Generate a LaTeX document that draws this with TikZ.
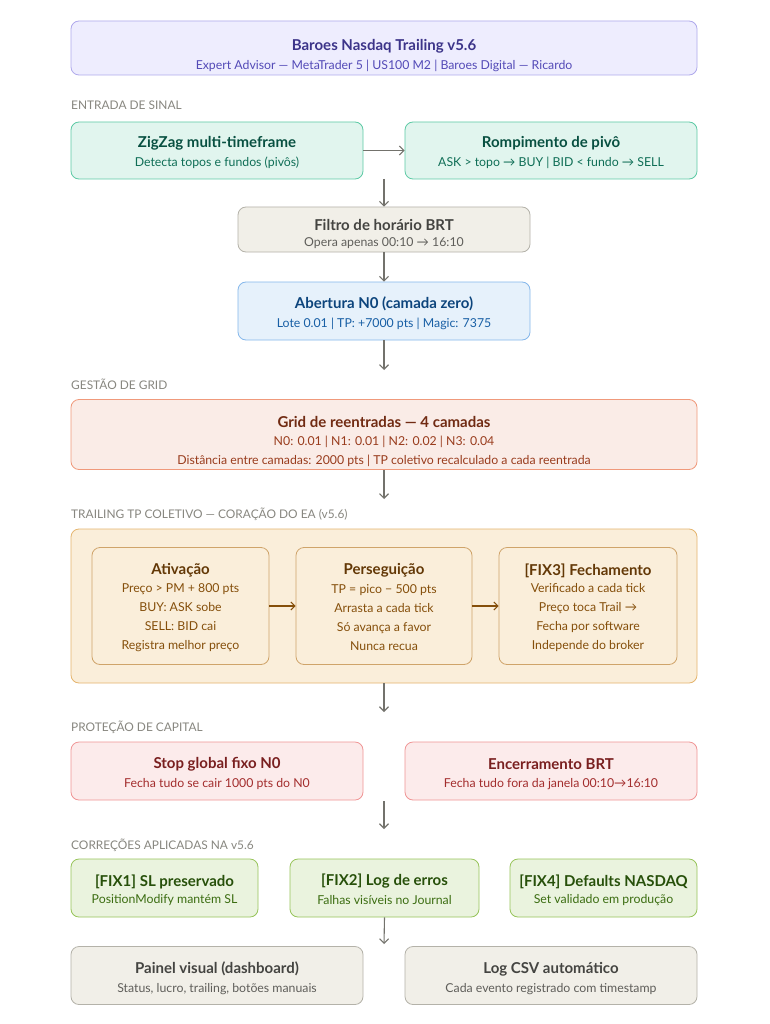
\documentclass[tikz,border=0pt]{standalone}
\usepackage{fontspec}
\setmainfont{Lato}
\usetikzlibrary{arrows.meta}
\definecolor{lavF}{HTML}{EEEDFE}\definecolor{lavD}{HTML}{AFA9EC}\definecolor{lavT}{HTML}{3C3489}\definecolor{lavS}{HTML}{534AB7}
\definecolor{tealF}{HTML}{E1F5EE}\definecolor{tealD}{HTML}{5DCAA5}\definecolor{tealT}{HTML}{085041}\definecolor{tealS}{HTML}{0F6E56}
\definecolor{grayF}{HTML}{F1EFE8}\definecolor{grayD}{HTML}{B4B2A9}\definecolor{grayT}{HTML}{444441}\definecolor{grayS}{HTML}{5F5E5A}
\definecolor{blueF}{HTML}{E6F1FB}\definecolor{blueD}{HTML}{85B7EB}\definecolor{blueT}{HTML}{0C447C}\definecolor{blueS}{HTML}{185FA5}
\definecolor{corF}{HTML}{FAECE7}\definecolor{corD}{HTML}{F0997B}\definecolor{corT}{HTML}{712B13}\definecolor{corS}{HTML}{993C1D}
\definecolor{ambF}{HTML}{FAEEDA}\definecolor{ambD}{HTML}{E5B56E}\definecolor{ambI}{HTML}{CFA46A}\definecolor{ambT}{HTML}{633806}\definecolor{ambS}{HTML}{854F0B}
\definecolor{redF}{HTML}{FCEBEB}\definecolor{redD}{HTML}{F09595}\definecolor{redT}{HTML}{791F1F}\definecolor{redS}{HTML}{A32D2D}
\definecolor{grnF}{HTML}{EAF3DE}\definecolor{grnD}{HTML}{97C459}\definecolor{grnT}{HTML}{27500A}\definecolor{grnS}{HTML}{3B6D11}
\definecolor{secG}{HTML}{888780}\definecolor{arrG}{HTML}{73726C}
\tikzset{
  box/.style={draw, rounded corners=8pt, line width=0.8pt, inner sep=0pt},
  ttl/.style={font=\bfseries\fontsize{15}{18}\selectfont, inner sep=0pt},
  sub/.style={font=\fontsize{12.3}{15}\selectfont, inner sep=0pt},
  multi/.style={font=\fontsize{12.3}{19}\selectfont, align=center, inner sep=0pt},
  sec/.style={font=\fontsize{11.9}{14}\selectfont, text=secG, anchor=west, inner sep=0pt},
  arr/.style={draw=arrG, line width=1.1pt, -{Straight Barb[length=4.5pt,width=9pt]}},
  arrb/.style={draw=ambS, line width=1.1pt, -{Straight Barb[length=4pt,width=8pt]}}
}
\begin{document}
\begin{tikzpicture}[x=1pt,y=-1pt]
\useasboundingbox[fill=white] (0,0) rectangle (769,1024);
% header
\node[box, fill=lavF, draw=lavD, minimum width=626pt, minimum height=54pt] (hdr) at (384,48) {};
\node[ttl, text=lavT] (hdrT) at (384,46) {Baroes Nasdaq Trailing v5.6};
\node[sub, text=lavS] (hdrS) at (384,66) {Expert Advisor — MetaTrader 5 | US100 M2 | Baroes Digital — Ricardo};
% entrada
\node[sec] (s1) at (71,105) {ENTRADA DE SINAL};
\node[box, fill=tealF, draw=tealD, minimum width=292pt, minimum height=57pt] (zz) at (217,150.5) {};
\node[ttl, text=tealT] (zzT) at (217,143) {ZigZag multi-timeframe};
\node[sub, text=tealS] (zzS) at (217,163) {Detecta topos e fundos (pivôs)};
\node[box, fill=tealF, draw=tealD, minimum width=292pt, minimum height=57pt] (rp) at (551,150.5) {};
\node[ttl, text=tealT] (rpT) at (551,143) {Rompimento de pivô};
\node[sub, text=tealS] (rpS) at (551,163) {ASK > topo → BUY | BID < fundo → SELL};
\draw[arr] (zz.east) -- (rp.west);
\coordinate (c1) at (384,179);
\node[box, fill=grayF, draw=grayD, minimum width=292pt, minimum height=45pt] (fh) at (384,229.5) {};
\node[ttl, text=grayT] (fhT) at (384,225) {Filtro de horário BRT};
\node[sub, text=grayS] (fhS) at (384,243) {Opera apenas 00:10 → 16:10};
\draw[arr] (c1) -- (fh.north);
\node[box, fill=blueF, draw=blueD, minimum width=292pt, minimum height=58pt] (ab) at (384,311) {};
\node[ttl, text=blueT] (abT) at (384,304) {Abertura N0 (camada zero)};
\node[sub, text=blueS] (abS) at (384,324) {Lote 0.01 | TP: +7000 pts | Magic: 7375};
\draw[arr] (fh.south) -- (ab.north);
% grid
\node[sec] (s2) at (71,384) {GESTÃO DE GRID};
\node[box, fill=corF, draw=corD, minimum width=626pt, minimum height=70pt] (gr) at (384,434.5) {};
\node[ttl, text=corT] (grT) at (384,422) {Grid de reentradas — 4 camadas};
\node[sub, text=corS] (grS1) at (384,442) {N0: 0.01 | N1: 0.01 | N2: 0.02 | N3: 0.04};
\node[sub, text=corS] (grS2) at (384,461) {Distância entre camadas: 2000 pts | TP coletivo recalculado a cada reentrada};
\coordinate (c2) at (384,370);
\draw[arr] (ab.south) -- (c2);
% trailing
\node[sec] (s3) at (71,514) {TRAILING TP COLETIVO — CORAÇÃO DO EA (v5.6)};
\coordinate (c3) at (384,499);
\draw[arr] (gr.south) -- (c3);
\node[box, fill=ambF, draw=ambD, minimum width=626pt, minimum height=154pt] (tr) at (384,606) {};
\node[box, fill=ambF, draw=ambI, minimum width=177pt, minimum height=117pt] (at) at (180.5,606) {};
\node[box, fill=ambF, draw=ambI, minimum width=176pt, minimum height=117pt] (pe) at (384,606) {};
\node[box, fill=ambF, draw=ambI, minimum width=178pt, minimum height=117pt] (fe) at (588,606) {};
\node[ttl, text=ambT] (atT) at (180.5,570.5) {Ativação};
\node[multi, text=ambS] (atS) at (180.5,617.5) {Preço > PM + 800 pts\\BUY: ASK sobe\\SELL: BID cai\\Registra melhor preço};
\node[ttl, text=ambT] (peT) at (384,570.5) {Perseguição};
\node[multi, text=ambS] (peS) at (384,617.5) {TP = pico − 500 pts\\Arrasta a cada tick\\Só avança a favor\\Nunca recua};
\node[ttl, text=ambT] (feT) at (588,570.5) {[FIX3] Fechamento};
\node[multi, text=ambS] (feS) at (588,617.5) {Verificado a cada tick\\Preço toca Trail →\\Fecha por software\\Independe do broker};
\draw[arrb] (at.east) -- (pe.west);
\draw[arrb] (pe.east) -- (fe.west);
% protecao
\coordinate (c4) at (384,712);
\draw[arr] (tr.south) -- (c4);
\node[sec] (s4) at (71,727) {PROTEÇÃO DE CAPITAL};
\node[box, fill=redF, draw=redD, minimum width=292pt, minimum height=58pt] (sg) at (217,771) {};
\node[ttl, text=redT] (sgT) at (217,764) {Stop global fixo N0};
\node[sub, text=redS] (sgS) at (217,784) {Fecha tudo se cair 1000 pts do N0};
\node[box, fill=redF, draw=redD, minimum width=292pt, minimum height=58pt] (eb) at (551,771) {};
\node[ttl, text=redT] (ebT) at (551,764) {Encerramento BRT};
\node[sub, text=redS] (ebS) at (551,784) {Fecha tudo fora da janela 00:10→16:10};
\coordinate (c5) at (384,801);
\coordinate (c6) at (384,829);
\draw[arr] (c5) -- (c6);
% correcoes
\node[sec] (s5) at (71,845) {CORREÇÕES APLICADAS NA v5.6};
\node[box, fill=grnF, draw=grnD, minimum width=187pt, minimum height=58pt] (f1) at (164.5,888) {};
\node[ttl, text=grnT] (f1T) at (164.5,881.5) {[FIX1] SL preservado};
\node[sub, text=grnS] (f1S) at (164.5,900) {PositionModify mantém SL};
\node[box, fill=grnF, draw=grnD, minimum width=189pt, minimum height=58pt] (f2) at (384.5,888) {};
\node[ttl, text=grnT] (f2T) at (384.5,881.5) {[FIX2] Log de erros};
\node[sub, text=grnS] (f2S) at (384.5,900) {Falhas visíveis no Journal};
\node[box, fill=grnF, draw=grnD, minimum width=187pt, minimum height=58pt] (f4) at (603.5,888) {};
\node[ttl, text=grnT] (f4T) at (603.5,881.5) {[FIX4] Defaults NASDAQ};
\node[sub, text=grnS] (f4S) at (603.5,900) {Set validado em produção};
\coordinate (c7) at (384,944);
\draw[arr] (f2.south) -- (c7);
% bottom
\node[box, fill=grayF, draw=grayD, minimum width=292pt, minimum height=58pt] (pv) at (217,975.5) {};
\node[ttl, text=grayT] (pvT) at (217,969) {Painel visual (dashboard)};
\node[sub, text=grayS] (pvS) at (217,989) {Status, lucro, trailing, botões manuais};
\node[box, fill=grayF, draw=grayD, minimum width=292pt, minimum height=58pt] (lc) at (551,975.5) {};
\node[ttl, text=grayT] (lcT) at (551,969) {Log CSV automático};
\node[sub, text=grayS] (lcS) at (551,989) {Cada evento registrado com timestamp};
\end{tikzpicture}
\end{document}
